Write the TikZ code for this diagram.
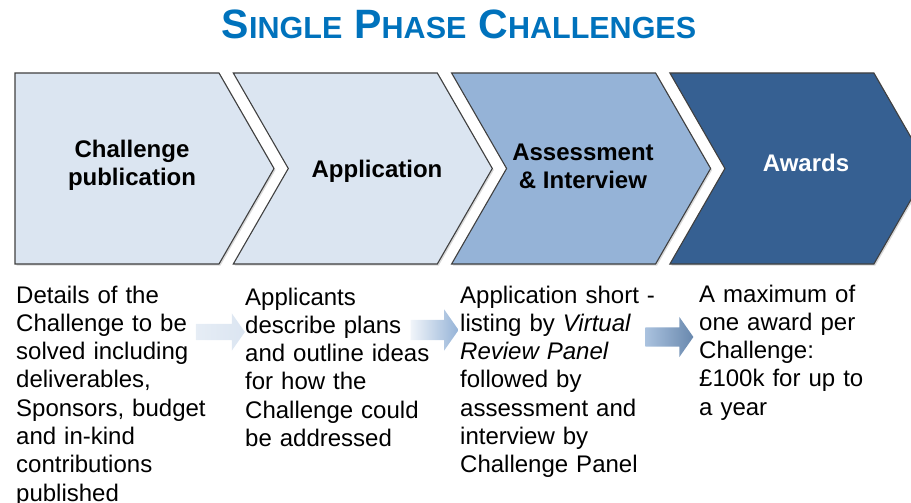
\documentclass[tikz,border=0pt]{standalone}
\usepackage{fontspec}
\setmainfont{Liberation Sans}
\usetikzlibrary{shadows, shapes.arrows, positioning, calc}
\definecolor{titleblue}{RGB}{0,114,188}
\definecolor{palechev}{RGB}{219,229,241}
\definecolor{midchev}{RGB}{149,179,215}
\definecolor{darkchev}{RGB}{54,96,146}
\newcommand{\tcap}[1]{{\fontsize{41}{41}\selectfont #1}}

\begin{document}
\begin{tikzpicture}[x=1pt,y=-1pt,
        chev/.style={draw=black!75,line width=1.1pt,drop shadow={shadow xshift=1.5pt,shadow yshift=-1.5pt,opacity=0.3}},
        lbl/.style={font=\fontsize{24}{28}\selectfont\bfseries,align=center,inner sep=0pt},
        body/.style={font=\fontsize{24}{28.3}\selectfont,align=left,anchor=base west,inner sep=0pt,text width=215pt},
        flow/.style={single arrow,inner xsep=0pt,minimum height=48pt,single arrow head extend=10.5pt,single arrow tip angle=110}]
        \clip (0,0) rectangle (911,503);
        % title
        \draw (459,39) node[anchor=base,text=titleblue,font=\bfseries\fontsize{30.5}{31}\selectfont] (title) {\tcap{S}INGLE\hspace{12pt}\tcap{P}HASE\hspace{12pt}\tcap{C}HALLENGES};
        % chevrons
        \foreach \i/\fc in {0/palechev,1/palechev,2/midchev,3/darkchev} {
          \pgfmathsetmacro\L{15+218.3*\i}
          \pgfmathsetmacro\n{ifthenelse(\i==0,0,55)}
          \draw[chev,fill=\fc] (\L,73) -- (\L+204,73) -- (\L+259,168.5) -- (\L+204,264) -- (\L,264) -- (\L+\n,168.5) -- cycle;
        }
        \draw (132,165) node[lbl] (pub){Challenge\\publication};
        \draw (377,171) node[lbl] (appl){Application};
        \draw (583,166) node[lbl] (assess){Assessment\\\& Interview};
        \draw (806,163) node[lbl,text=white] (award){Awards};
        % descriptions
        \draw (16,303) node[body] (pubtxt){Details of the\\Challenge to be\\solved including\\deliverables,\\Sponsors, budget\\and in-kind\\contributions\\published};
        \draw (245,305) node[body] (appltxt){Applicants\\describe plans\\and outline ideas\\for how the\\Challenge could\\be addressed};
        \draw (460,303) node[body] (assesstxt){Application short -\\listing by \textit{Virtual}\\\textit{Review Panel}\\followed by\\assessment and\\interview by\\Challenge Panel};
        \draw (699,302) node[body] (awardtxt){A maximum of\\one award per\\Challenge:\\£100k for up to\\a year};
        % block arrows
        \draw (217.5,332) node[flow,inner ysep=8pt,minimum height=49pt,left color=palechev!70,right color=palechev] (arr1){};
        \draw (431,330) node[flow,inner ysep=10pt,left color=palechev!40,right color=midchev] (arr2){};
        \draw (666,337) node[flow,inner ysep=9.5pt,left color=midchev!80,right color=darkchev!75] (arr3){};
      \end{tikzpicture}
\end{document}
